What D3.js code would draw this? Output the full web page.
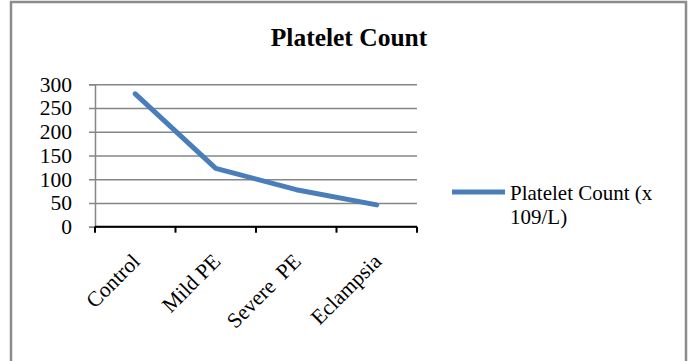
<!DOCTYPE html>
<html>
<head>
<meta charset="utf-8">
<script src="https://cdn.jsdelivr.net/npm/d3@7/dist/d3.min.js"></script>
<style>
  html, body { margin: 0; padding: 0; background: #fff; }
  svg { display: block; }
  text { font-family: "Liberation Serif", "Times New Roman", serif; fill: #000; }
</style>
</head>
<body>
<svg id="chart" width="690" height="361"></svg>
<script>
// Platelet count by group
const categories = ["Control", "Mild PE", "Severe  PE", "Eclampsia"];
const plateletCount = [280, 123, 78, 46];
const yTicks = [0, 50, 100, 150, 200, 250, 300];
const chartTitle = "Platelet Count";
const legendLines = ["Platelet Count (x", "109/L)"];

const svg = d3.select("#chart");
const W = 690, H = 361;

// Outer frame (open at the bottom)
svg.append("path")
  .attr("d", `M11,${H} L11,2 L686,2 L686,${H}`)
  .attr("fill", "none")
  .attr("stroke", "#8c8c8c")
  .attr("stroke-width", 2.5);

const plot = { left: 95, right: 417, top: 84.3, bottom: 226.7 };

const x = d3.scaleBand().domain(categories).range([plot.left, plot.right]);
const y = d3.scaleLinear().domain([0, 300]).range([plot.bottom, plot.top]);

// Title
svg.append("text")
  .attr("x", 349).attr("y", 46)
  .attr("text-anchor", "middle")
  .attr("font-size", 25.5).attr("font-weight", "bold")
  .text(chartTitle);

// Gridlines + y axis
const yAxis = d3.axisLeft(y).tickValues(yTicks).tickSize(6).tickPadding(17)
  .tickFormat(d3.format("d"));
const gy = svg.append("g").attr("transform", `translate(${plot.left},0)`).call(yAxis);
gy.select(".domain").attr("stroke", "#868686").attr("stroke-width", 1.5);
gy.selectAll(".tick line").attr("stroke", "#868686").attr("stroke-width", 1.5)
  .attr("x1", -6).attr("x2", plot.right - plot.left);
gy.selectAll(".tick text").attr("font-size", 21.5)
  .attr("font-family", "Liberation Serif, Times New Roman, serif").attr("fill", "#000");

// Category axis
const xAxisBoundaries = categories.map(c => x(c)).concat([x.range()[1]]);
const gx = svg.append("g").attr("transform", `translate(0,${plot.bottom})`);
gx.append("line")
  .attr("x1", plot.left).attr("x2", plot.right)
  .attr("stroke", "#000").attr("stroke-width", 2);
gx.selectAll("line.tick").data(xAxisBoundaries).enter().append("line")
  .attr("class", "tick")
  .attr("x1", d => d).attr("x2", d => d)
  .attr("y1", 0).attr("y2", 6)
  .attr("stroke", "#000").attr("stroke-width", 2);
gx.selectAll("text").data(categories).enter().append("text")
  .attr("transform", d => `translate(${x(d) + x.bandwidth() / 2 + 6},${36}) rotate(-45)`)
  .attr("text-anchor", "end")
  .attr("font-size", 21.5)
  .style("white-space", "pre")
  .text(d => d);

// Series line
const line = d3.line()
  .x((d, i) => x(categories[i]) + x.bandwidth() / 2)
  .y(d => y(d));
svg.append("path")
  .datum(plateletCount)
  .attr("d", line)
  .attr("fill", "none")
  .attr("stroke", "#4a7ebb")
  .attr("stroke-width", 5)
  .attr("stroke-linecap", "round")
  .attr("stroke-linejoin", "round");

// Legend
svg.append("line")
  .attr("x1", 452).attr("x2", 505).attr("y1", 192).attr("y2", 192)
  .attr("stroke", "#4a7ebb").attr("stroke-width", 5);
svg.append("g").selectAll("text").data(legendLines).enter().append("text")
  .attr("x", 510).attr("y", (d, i) => 200 + i * 24)
  .attr("font-size", 21)
  .text(d => d);
</script>
</body>
</html>
